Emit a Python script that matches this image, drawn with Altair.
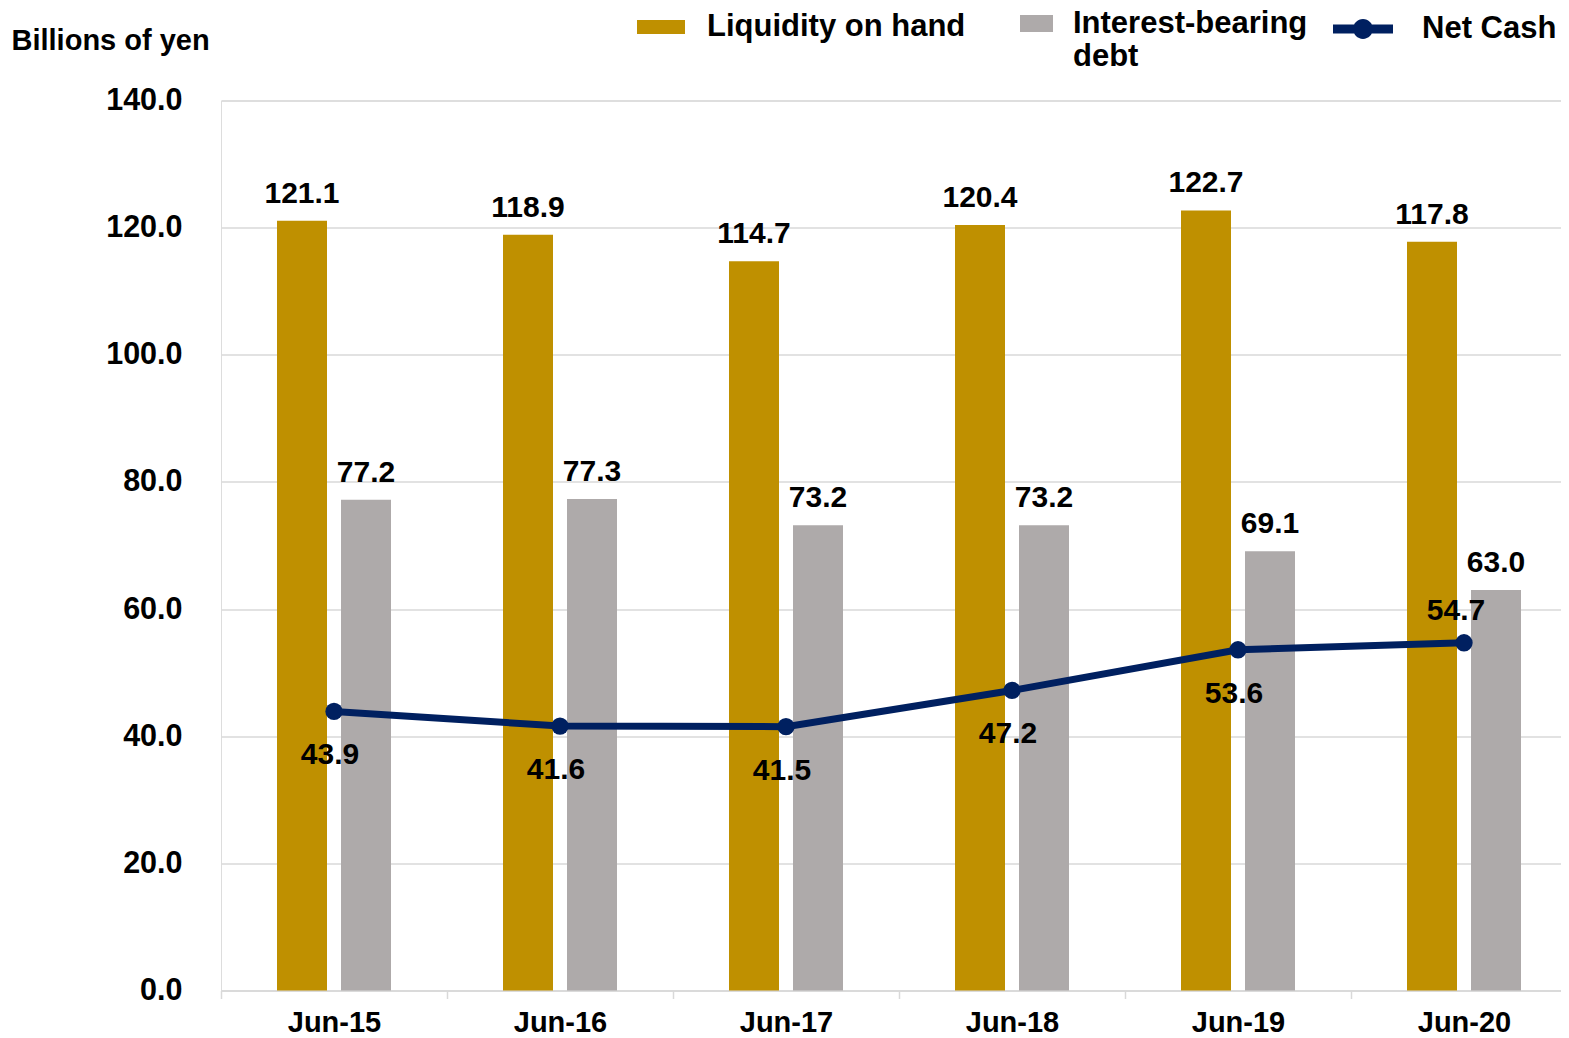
import altair as alt
import pandas as pd

periods = ["Jun-15", "Jun-16", "Jun-17", "Jun-18", "Jun-19", "Jun-20"]
liquidity = [121.1, 118.9, 114.7, 120.4, 122.7, 117.8]
debt = [77.2, 77.3, 73.2, 73.2, 69.1, 63.0]
net_cash = [43.9, 41.6, 41.5, 47.2, 53.6, 54.7]
series_names = ["Liquidity on hand", "Interest-bearing debt", "Net Cash"]
y_ticks = [0, 20, 40, 60, 80, 100, 120, 140]

df = pd.DataFrame({
    "period": periods * 3,
    "series": [s for s in series_names for _ in periods],
    "value": liquidity + debt + net_cash,
})

FONT = "Liberation Sans"
GOLD = "#BF9000"
GRAY = "#AEAAAA"
NAVY = "#002060"
GRID = "#D9D9D9"

x = alt.X(
    "period:N", sort=periods, title=None,
    scale=alt.Scale(paddingInner=0, paddingOuter=0, range=[0, 1356]),
    axis=alt.Axis(labelAngle=0, labelFontSize=29, labelFont=FONT, labelFontWeight="bold",
                  labelColor="black", domainColor=GRID, domainWidth=1.5, tickColor=GRID,
                  tickWidth=1.5, tickSize=8, tickBand="extent", labelPadding=10, grid=False),
)
y = alt.Y(
    "value:Q", title="Billions of yen",
    scale=alt.Scale(domain=[0, 140], nice=False),
    axis=alt.Axis(values=y_ticks, format=".1f", labelFontSize=30.5, labelFont=FONT,
                  labelFontWeight="bold", labelColor="black", labelPadding=39,
                  domain=False, ticks=False, grid=True, gridColor=GRID, gridWidth=1.5,
                  titleAngle=0, titleAlign="left", titleBaseline="alphabetic",
                  titleX=-210, titleY=-51.5, titleFontSize=29, titleFont=FONT,
                  titleFontWeight="bold", titleColor="black"),
)

def legend(lx, ly, shape, size, offset, label_expr=None):
    kw = dict(title=None, orient="none", legendX=lx, legendY=ly, symbolType=shape,
              symbolSize=size, symbolStrokeWidth=0, labelFontSize=31, labelFont=FONT,
              labelFontWeight="bold", labelColor="black", labelOffset=offset, labelLimit=500)
    if label_expr:
        kw["labelExpr"] = label_expr
    return alt.Legend(**kw)

base = alt.Chart(df)

gold = base.transform_filter(alt.datum.series == "Liquidity on hand").mark_bar(
    width=50, xOffset=-32).encode(
    x=x, y=y,
    fill=alt.Fill("series:N", scale=alt.Scale(domain=["Liquidity on hand"], range=[GOLD]),
                  legend=legend(416, -97.5, "M-1,-0.29L1,-0.29L1,0.29L-1,0.29Z", 2304, 22)),
)
gray = base.transform_filter(alt.datum.series == "Interest-bearing debt").mark_bar(
    width=50, xOffset=32).encode(
    x=x, y=y,
    fill=alt.Fill("series:N", scale=alt.Scale(domain=["Interest-bearing debt"], range=[GRAY]),
                  legend=legend(799, -93.5, "M-1,-0.52L1,-0.52L1,0.52L-1,0.52Z", 1089, 20,
                                "datum.label == 'Interest-bearing debt' ? ['Interest-bearing', 'debt'] : datum.label")),
)
net = base.transform_filter(alt.datum.series == "Net Cash")
line = net.mark_line(color=NAVY, strokeWidth=7).encode(x=x, y=y)
points = net.mark_point(filled=True, size=300, opacity=1).encode(
    x=x, y=y,
    fill=alt.Fill("series:N", scale=alt.Scale(domain=["Net Cash"], range=[NAVY]),
                  legend=legend(1112, -101.5,
                                "M-1,-0.15L1,-0.15L1,0.15L-1,0.15Z M-0.33,0A0.33,0.33 0 1,1 0.33,0A0.33,0.33 0 1,1 -0.33,0Z",
                                3600, 29)),
)

txt = dict(fontSize=30, font=FONT, fontWeight="bold", color="black", baseline="alphabetic")
gold_lbl = base.transform_filter(alt.datum.series == "Liquidity on hand").mark_text(
    dx=-32, dy=-18, **txt).encode(x=x, y=y, text=alt.Text("value:Q", format=".1f"))
gray_lbl = base.transform_filter(alt.datum.series == "Interest-bearing debt").mark_text(
    dx=32, dy=-18, **txt).encode(x=x, y=y, text=alt.Text("value:Q", format=".1f"))
net_below = net.transform_filter(alt.datum.period != "Jun-20").mark_text(
    dx=-4, dy=53, **txt).encode(x=x, y=y, text=alt.Text("value:Q", format=".1f"))
net_above = net.transform_filter(alt.datum.period == "Jun-20").mark_text(
    dx=-8, dy=-23, **txt).encode(x=x, y=y, text=alt.Text("value:Q", format=".1f"))

chart = alt.layer(gold, gray, line, points, gold_lbl, gray_lbl, net_below, net_above).resolve_scale(
    fill="independent"
).properties(
    width=1340, height=890,
    autosize=alt.AutoSizeParams(type="none"),
    padding={"left": 213, "top": 92.5, "right": 0, "bottom": 47},
).configure_view(stroke=None).configure(background="white")

chart.save("out.html", embed_options={"renderer": "svg", "actions": False})
